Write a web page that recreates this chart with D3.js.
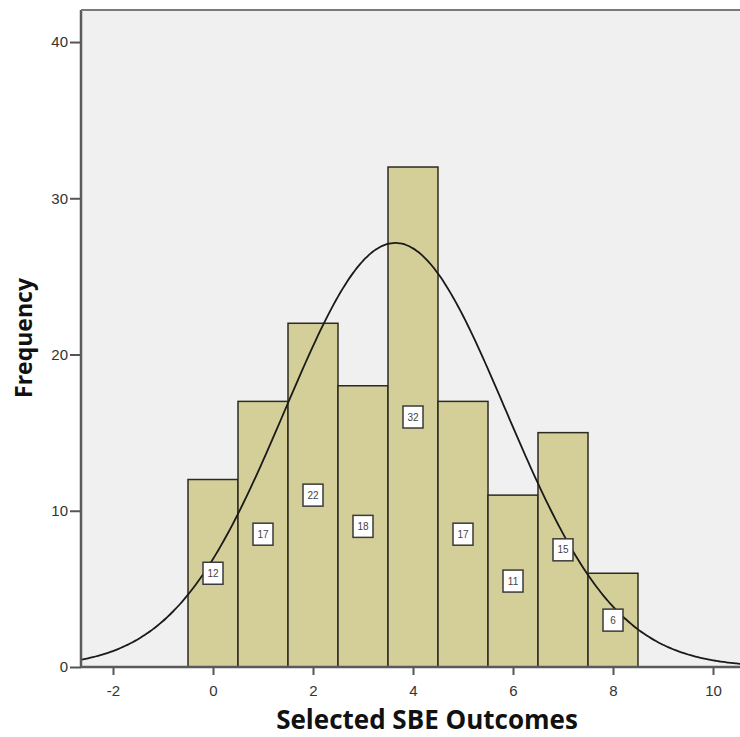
<!DOCTYPE html>
<html>
<head>
<meta charset="utf-8">
<script src="https://cdn.jsdelivr.net/npm/d3@7"></script>
<style>
  body { margin: 0; background: #fff; }
  svg { display: block; }
</style>
</head>
<body>
<svg id="chart" width="740" height="737"></svg>
<script>
// histogram data
var bins = [0, 1, 2, 3, 4, 5, 6, 7, 8];
var counts = [12, 17, 22, 18, 32, 17, 11, 15, 6];
var xTicks = [-2, 0, 2, 4, 6, 8, 10];
var yTicks = [0, 10, 20, 30, 40];

var svg = d3.select("svg#chart");

var plotLeft = 81, plotRight = 740, plotTop = 10, plotBottom = 667;

var x = d3.scaleLinear().domain([-2.64, 10.54]).range([plotLeft, plotRight]);
var y = d3.scaleLinear().domain([0, 42.05]).range([plotBottom, plotTop]);

// plot background
svg.append("rect")
  .attr("x", plotLeft).attr("y", plotTop)
  .attr("width", plotRight - plotLeft).attr("height", plotBottom - plotTop)
  .attr("fill", "#f0f0f0");

svg.append("clipPath").attr("id", "plotClip")
  .append("rect")
  .attr("x", plotLeft).attr("y", plotTop)
  .attr("width", plotRight - plotLeft).attr("height", plotBottom - plotTop);

var plot = svg.append("g").attr("clip-path", "url(#plotClip)");

// bars
plot.selectAll("rect.bar")
  .data(bins)
  .enter().append("rect")
  .attr("class", "bar")
  .attr("x", d => x(d - 0.5))
  .attr("y", (d, i) => y(counts[i]))
  .attr("width", d => x(d + 0.5) - x(d - 0.5))
  .attr("height", (d, i) => y(0) - y(counts[i]))
  .attr("fill", "#d4cf98")
  .attr("stroke", "#2b2b22")
  .attr("stroke-width", 1.5);

// normal curve fitted from the histogram
var n = d3.sum(counts);
var mean = d3.sum(bins, (d, i) => d * counts[i]) / n;
var ss = d3.sum(bins, (d, i) => counts[i] * (d - mean) * (d - mean));
var sd = Math.sqrt(ss / (n - 1));
var curveX = d3.range(-2.7, 10.6, 0.05);
var line = d3.line()
  .x(d => x(d))
  .y(d => y(n / (sd * Math.sqrt(2 * Math.PI)) * Math.exp(-0.5 * Math.pow((d - mean) / sd, 2))))
  .curve(d3.curveBasis);

plot.append("path")
  .datum(curveX)
  .attr("d", line)
  .attr("fill", "none")
  .attr("stroke", "#1a1a1a")
  .attr("stroke-width", 1.8);

// value labels
var lab = svg.selectAll("g.valLabel")
  .data(bins)
  .enter().append("g")
  .attr("class", "valLabel")
  .attr("transform", (d, i) => "translate(" + x(d) + "," + y(counts[i] / 2) + ")");

lab.append("rect")
  .attr("x", -10).attr("y", -11)
  .attr("width", 20).attr("height", 22)
  .attr("fill", "#fff")
  .attr("stroke", "#3a3a3a")
  .attr("stroke-width", 1.5);

lab.append("text")
  .attr("text-anchor", "middle")
  .attr("dominant-baseline", "central")
  .attr("font-family", "Liberation Sans, Arial, sans-serif")
  .attr("font-size", 10)
  .attr("fill", "#444")
  .text((d, i) => counts[i]);

// axes
var xAxis = d3.axisBottom(x).tickValues(xTicks).tickSize(8).tickPadding(10).tickFormat(d => String(d));
var yAxis = d3.axisLeft(y).tickValues(yTicks).tickSize(11).tickPadding(2).tickFormat(d => String(d));

var gx = svg.append("g").attr("transform", "translate(0," + plotBottom + ")").call(xAxis);
var gy = svg.append("g").attr("transform", "translate(" + plotLeft + ",0)").call(yAxis);

[gx, gy].forEach(function(g) {
  g.select(".domain").remove();
  g.selectAll(".tick line").attr("stroke", "#555").attr("stroke-width", 2);
  g.selectAll(".tick text")
    .attr("font-family", "Liberation Sans, Arial, sans-serif")
    .attr("font-size", 15)
    .attr("fill", "#333");
});

svg.append("line")
  .attr("x1", plotLeft).attr("x2", plotRight).attr("y1", plotBottom).attr("y2", plotBottom)
  .attr("stroke", "#5a5a5a").attr("stroke-width", 2.5);
svg.append("line")
  .attr("x1", plotLeft).attr("x2", plotLeft).attr("y1", plotTop).attr("y2", plotBottom)
  .attr("stroke", "#5a5a5a").attr("stroke-width", 2.5);
svg.append("line")
  .attr("x1", plotLeft).attr("x2", plotRight).attr("y1", plotTop).attr("y2", plotTop)
  .attr("stroke", "#7a7a7a").attr("stroke-width", 2);

// axis titles
svg.append("text")
  .attr("x", 427).attr("y", 729)
  .attr("text-anchor", "middle")
  .attr("font-family", "Open Sans, sans-serif")
  .attr("font-weight", "bold")
  .attr("font-size", 26)
  .attr("fill", "#111")
  .text("Selected SBE Outcomes");

svg.append("text")
  .attr("transform", "translate(32,338) rotate(-90)")
  .attr("text-anchor", "middle")
  .attr("font-family", "Open Sans, sans-serif")
  .attr("font-weight", "bold")
  .attr("font-size", 23)
  .attr("fill", "#111")
  .text("Frequency");
</script>
</body>
</html>
